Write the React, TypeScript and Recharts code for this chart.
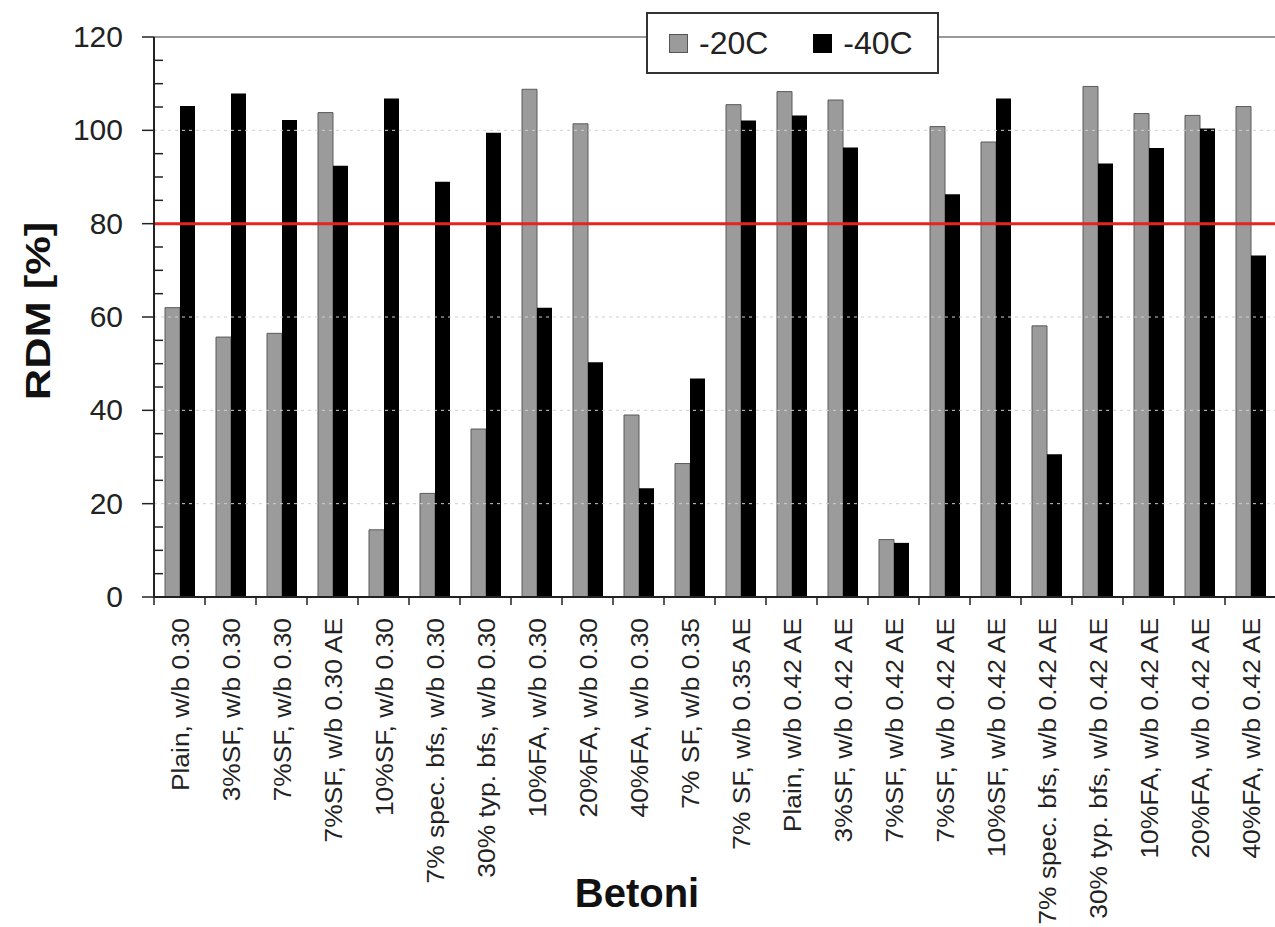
import React from 'react';
import { BarChart, Bar, XAxis, YAxis, ReferenceLine } from 'recharts';

/* ------------------------------------------------------------------ */
/*  Data                                                               */
/* ------------------------------------------------------------------ */

const CATEGORIES = [
  'Plain, w/b 0.30',
  '3%SF, w/b 0.30',
  '7%SF, w/b 0.30',
  '7%SF, w/b 0.30 AE',
  '10%SF, w/b 0.30',
  '7% spec. bfs, w/b 0.30',
  '30% typ. bfs, w/b 0.30',
  '10%FA, w/b 0.30',
  '20%FA, w/b 0.30',
  '40%FA, w/b 0.30',
  '7% SF, w/b 0.35',
  '7% SF, w/b 0.35 AE',
  'Plain, w/b 0.42 AE',
  '3%SF, w/b 0.42 AE',
  '7%SF, w/b 0.42 AE',
  '7%SF, w/b 0.42 AE',
  '10%SF, w/b 0.42 AE',
  '7% spec. bfs, w/b 0.42 AE',
  '30% typ. bfs, w/b 0.42 AE',
  '10%FA, w/b 0.42 AE',
  '20%FA, w/b 0.42 AE',
  '40%FA, w/b 0.42 AE',
];

const MINUS_20C = [
  62, 55.7, 56.5, 103.8, 14.4, 22.2, 36, 108.8, 101.4, 39, 28.6,
  105.5, 108.3, 106.5, 12.3, 100.8, 97.5, 58.1, 109.4, 103.6, 103.2, 105.1,
];

const MINUS_40C = [
  105.2, 107.9, 102.2, 92.4, 106.8, 89, 99.5, 62, 50.3, 23.3, 46.8,
  102.1, 103.2, 96.3, 11.6, 86.3, 106.8, 30.6, 92.9, 96.2, 100.4, 73.2,
];

const Y_LABELS = [0, 20, 40, 60, 80, 100, 120];
const Y_MINOR = [0, 5, 10, 15, 20, 25, 30, 35, 40, 45, 50, 55, 60, 65, 70, 75, 80, 85, 90, 95, 100, 105, 110, 115, 120];
const GRID_VALUES = [20, 40, 60, 100];
const LIMIT = 80;

/* ------------------------------------------------------------------ */
/*  Layout tokens                                                      */
/* ------------------------------------------------------------------ */

const W = 1276;
const H = 927;
const PLOT_LEFT = 154;
const BAND = (W - PLOT_LEFT) / CATEGORIES.length;
const GRAY = '#9b9b9b';
const AXIS = '#222';
const FONT = "Arial, 'Liberation Sans', sans-serif";

const chartData = CATEGORIES.map((name, i) => ({
  idx: i,
  name,
  m20: MINUS_20C[i],
  m40: MINUS_40C[i],
}));

/* ------------------------------------------------------------------ */
/*  Ticks                                                              */
/* ------------------------------------------------------------------ */

function YTick({ x, y, payload }: any) {
  const v = payload.value as number;
  const major = Y_LABELS.includes(v);
  return (
    <g>
      {major ? (
        <>
          <line x1={x - 12} x2={x} y1={y} y2={y} stroke={AXIS} strokeWidth={1.5} />
          <text x={x - 31} y={y} dy={10} textAnchor="end" fontSize={30} fontFamily={FONT} fill="#222">
            {v}
          </text>
        </>
      ) : (
        <line x1={x} x2={x + 9} y1={y} y2={y} stroke={AXIS} strokeWidth={1.5} />
      )}
    </g>
  );
}

function XTick({ x, y, payload }: any) {
  const label = CATEGORIES[payload.value as number];
  const bx = x - BAND / 2;
  return (
    <g>
      <line x1={bx} x2={bx} y1={y} y2={y + 8} stroke={AXIS} strokeWidth={1.5} />
      <text
        transform={`translate(${x + 9},${y + 21}) rotate(-90) scale(1.1,1)`}
        textAnchor="end"
        fontSize={24}
        fontFamily={FONT}
        fill="#222"
      >
        {label}
      </text>
    </g>
  );
}

/* ------------------------------------------------------------------ */
/*  Legend                                                             */
/* ------------------------------------------------------------------ */

function LegendBox() {
  const item = (color: string, text: string, border: string) => (
    <div style={{ display: 'flex', alignItems: 'center' }}>
      <span
        style={{
          display: 'inline-block',
          width: 17,
          height: 17,
          background: color,
          border: `1px solid ${border}`,
          marginRight: 11,
        }}
      />
      <span style={{ fontSize: 32, lineHeight: '32px', color: '#222' }}>{text}</span>
    </div>
  );
  return (
    <div
      style={{
        position: 'absolute',
        left: 646,
        top: 12,
        boxSizing: 'border-box',
        width: 293,
        height: 62,
        border: '2px solid #333',
        background: '#fff',
        display: 'flex',
        alignItems: 'center',
        paddingLeft: 21,
        gap: 45,
        fontFamily: FONT,
      }}
    >
      {item(GRAY, '-20C', '#555')}
      {item('#000', '-40C', '#000')}
    </div>
  );
}

/* ------------------------------------------------------------------ */
/*  Component                                                          */
/* ------------------------------------------------------------------ */

export default function App() {
  return (
    <div
      style={{
        position: 'absolute',
        left: 0,
        top: 0,
        width: 1275,
        height: H,
        overflow: 'hidden',
        background: '#fff',
      }}
    >
      <BarChart
        width={W}
        height={H}
        data={chartData}
        margin={{ top: 37, right: 0, left: 0, bottom: 0 }}
        barGap={0}
        barSize={15}
      >
        {GRID_VALUES.map((v) => (
          <ReferenceLine key={v} y={v} stroke="#cfcfcf" strokeDasharray="3 4" />
        ))}
        <ReferenceLine y={120} stroke="#777" strokeWidth={1.5} />
        <XAxis
          dataKey="idx"
          type="category"
          interval={0}
          height={330}
          tickSize={0}
          tickMargin={0}
          tickLine={false}
          axisLine={{ stroke: AXIS, strokeWidth: 2 }}
          tick={<XTick />}
          label={() => (
            <text x={637} y={907} textAnchor="middle" fontSize={40} fontWeight="bold" fontFamily={FONT} fill="#111">
              Betoni
            </text>
          )}
        />
        <YAxis
          width={PLOT_LEFT}
          domain={[0, 120]}
          ticks={Y_MINOR}
          interval={0}
          tickSize={0}
          tickMargin={0}
          tickLine={false}
          axisLine={{ stroke: AXIS, strokeWidth: 2 }}
          tick={<YTick />}
          label={() => (
            <text
              transform="translate(50,311) rotate(-90) scale(1.24,1)"
              textAnchor="middle"
              fontSize={35}
              fontWeight="bold"
              fontFamily={FONT}
              fill="#111"
            >
              RDM [%]
            </text>
          )}
        />
        <Bar dataKey="m20" name="-20C" fill={GRAY} stroke="#5a5a5a" strokeWidth={1} isAnimationActive={false} />
        <Bar dataKey="m40" name="-40C" fill="#000" isAnimationActive={false} />
        <ReferenceLine y={LIMIT} stroke="#e3241f" strokeWidth={3} />
      </BarChart>
      <LegendBox />
    </div>
  );
}
